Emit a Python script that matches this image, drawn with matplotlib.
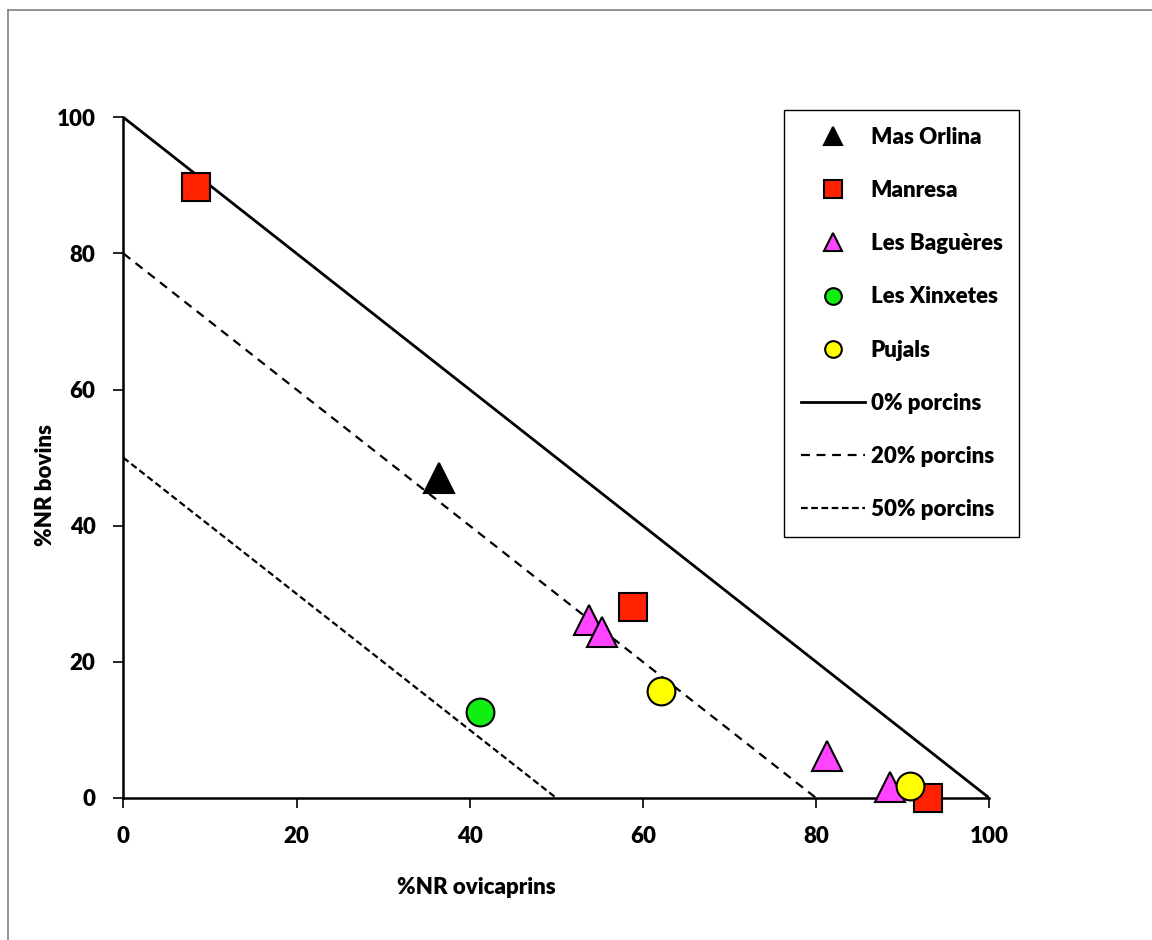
import matplotlib
matplotlib.use("Agg")
import matplotlib.pyplot as plt
from matplotlib.lines import Line2D

plt.rcParams['font.family'] = ['Lato', 'DejaVu Sans']
plt.rcParams['font.weight'] = 'heavy'

# Data
mas_orlina_x = [36.5]
mas_orlina_y = [47.0]
manresa_x = [8.4, 58.9, 92.9]
manresa_y = [89.8, 28.1, 0.0]
bagueres_x = [53.8, 55.3, 81.3, 88.5]
bagueres_y = [26.2, 24.4, 6.2, 1.6]
xinxetes_x = [41.2]
xinxetes_y = [12.6]
pujals_x = [62.1, 90.9]
pujals_y = [15.7, 1.8]

porcins_levels = [0, 20, 50]
porcins_labels = ['0% porcins', '20% porcins', '50% porcins']
ticks = [0, 20, 40, 60, 80, 100]

fig = plt.figure(figsize=(11.52, 9.4), dpi=100)
ax = fig.add_axes([123.3/1152, 1-798/940, (989.3-123.3)/1152, (798-117.3)/940])

# outer frame (left & top visible)
fig.add_artist(Line2D([8/1152, 8/1152], [0, 1-10/940], transform=fig.transFigure,
                      color='#808080', lw=1.2))
fig.add_artist(Line2D([8/1152, 1.0], [1-10/940, 1-10/940], transform=fig.transFigure,
                      color='#808080', lw=1.2))

styles = ['-', (0, (4, 3)), (0, (3, 1.6))]
line_handles = []
for lvl, lab, ls in zip(porcins_levels, porcins_labels, styles):
    tot = 100 - lvl
    h, = ax.plot([0, tot], [tot, 0], color='black', lw=2.0 if lvl == 0 else 1.6,
                 linestyle=ls, label=lab, zorder=2)
    line_handles.append(h)

mk = dict(linestyle='none', markeredgecolor='black', markeredgewidth=1.5, clip_on=False, zorder=3)
h1, = ax.plot(mas_orlina_x, mas_orlina_y, marker='^', ms=21, color='black', label='Mas Orlina', **mk)
h2, = ax.plot(manresa_x, manresa_y, marker='s', ms=20.5, color='#ff2200', label='Manresa', **mk)
h3, = ax.plot(bagueres_x, bagueres_y, marker='^', ms=21, color='#ff44ff', label='Les Baguères', **mk)
h4, = ax.plot(xinxetes_x, xinxetes_y, marker='o', ms=20, color='#11ee11', label='Les Xinxetes', **mk)
h5, = ax.plot(pujals_x, pujals_y, marker='o', ms=20, color='#ffff00', label='Pujals', **mk)

ax.set_xlim(0, 100)
ax.set_ylim(0, 100)
ax.set_xticks(ticks)
ax.set_yticks(ticks)
ax.tick_params(axis='both', direction='out', length=7, width=1.2, labelsize=16, pad=13)
for lbl in ax.get_xticklabels() + ax.get_yticklabels():
    lbl.set_fontweight('heavy')
for s in ['top', 'right']:
    ax.spines[s].set_visible(False)
for s in ['left', 'bottom']:
    ax.spines[s].set_linewidth(1.8)

fig.text(476/1152, 1-888/940, '%NR ovicaprins', ha='center', va='center', fontsize=16, fontweight='heavy')
fig.text(45/1152, 1-485/940, '%NR bovins', ha='center', va='center', rotation=90, fontsize=16, fontweight='heavy')

handles = [h1, h2, h3, h4, h5] + line_handles
leg = fig.legend(handles=handles, labels=[h.get_label() for h in handles],
                 loc='upper left', bbox_to_anchor=(784/1152, 1-110/940),
                 bbox_transform=fig.transFigure, fontsize=16, markerscale=0.6,
                 frameon=True, fancybox=False, edgecolor='black', framealpha=1,
                 handlelength=2.9, handletextpad=0.25, labelspacing=1.45,
                 borderpad=0.75, borderaxespad=0)
leg.get_frame().set_linewidth(1.0)
for t in leg.get_texts():
    t.set_fontweight('heavy')

fig.savefig('out.png', dpi=100, facecolor='white')
